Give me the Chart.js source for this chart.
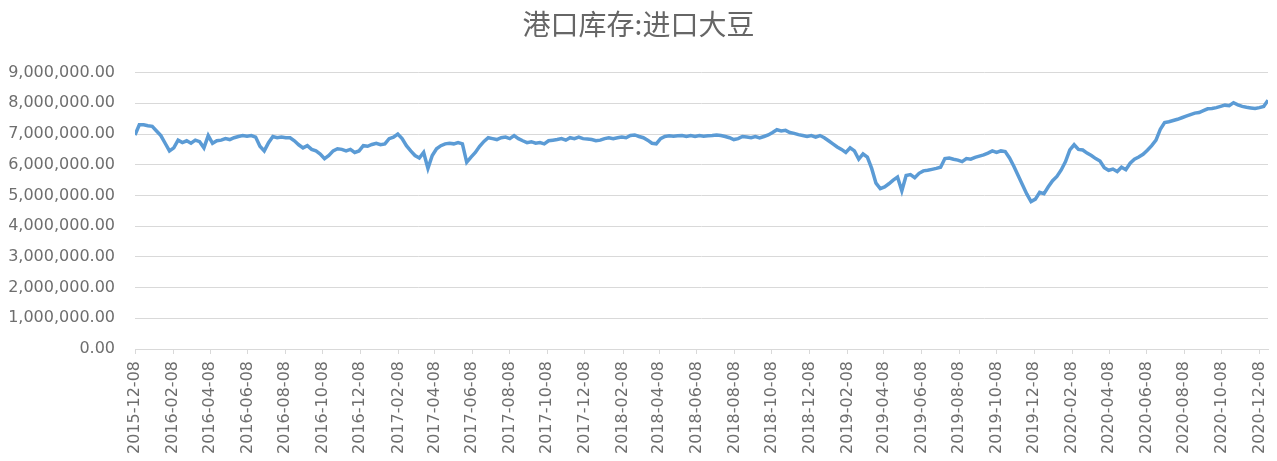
<!DOCTYPE html>
<html>
<head>
<meta charset="utf-8">
<script src="https://cdn.jsdelivr.net/npm/chart.js@4/dist/chart.umd.min.js"></script>
<style>
  html, body { margin: 0; padding: 0; background: #ffffff; }
  #wrap { width: 1277px; height: 461px; }
</style>
</head>
<body>
<div id="wrap"><canvas id="c" width="1277" height="461"></canvas></div>
<script>
// 港口库存:进口大豆 — weekly readings from 2015-12-08
const chartTitle = '港口库存:进口大豆';
const firstDate = '2015-12-08';
const stepDays = 7;

// Stock level (tons), one value per week
const stockValues = [
  6970000, 7300000, 7300000, 7270000, 7250000, 7100000, 6950000, 6700000, 6450000, 6550000,
  6800000, 6720000, 6780000, 6700000, 6800000, 6750000, 6550000, 6950000, 6700000, 6780000,
  6800000, 6850000, 6820000, 6880000, 6920000, 6950000, 6930000, 6950000, 6900000, 6600000,
  6450000, 6720000, 6920000, 6880000, 6900000, 6880000, 6880000, 6780000, 6650000, 6550000,
  6620000, 6500000, 6450000, 6350000, 6200000, 6300000, 6450000, 6520000, 6500000, 6450000,
  6500000, 6400000, 6450000, 6620000, 6600000, 6660000, 6700000, 6650000, 6680000, 6850000,
  6900000, 7000000, 6850000, 6620000, 6450000, 6300000, 6220000, 6400000, 5880000, 6300000,
  6520000, 6620000, 6680000, 6700000, 6680000, 6720000, 6680000, 6080000, 6250000, 6400000,
  6600000, 6760000, 6880000, 6850000, 6820000, 6880000, 6900000, 6850000, 6950000, 6850000,
  6780000, 6720000, 6750000, 6700000, 6720000, 6680000, 6780000, 6800000, 6820000, 6850000,
  6800000, 6880000, 6850000, 6900000, 6850000, 6840000, 6820000, 6780000, 6800000, 6850000,
  6880000, 6850000, 6880000, 6900000, 6880000, 6950000, 6970000, 6920000, 6880000, 6800000,
  6700000, 6680000, 6850000, 6920000, 6940000, 6930000, 6940000, 6950000, 6920000, 6950000,
  6920000, 6950000, 6930000, 6940000, 6950000, 6970000, 6950000, 6920000, 6880000, 6820000,
  6850000, 6920000, 6900000, 6880000, 6920000, 6870000, 6920000, 6970000, 7050000, 7140000,
  7100000, 7120000, 7050000, 7020000, 6980000, 6950000, 6920000, 6950000, 6900000, 6950000,
  6880000, 6780000, 6680000, 6580000, 6500000, 6400000, 6550000, 6450000, 6180000, 6350000,
  6250000, 5880000, 5400000, 5220000, 5280000, 5380000, 5500000, 5600000, 5150000, 5650000,
  5680000, 5580000, 5720000, 5800000, 5820000, 5850000, 5880000, 5920000, 6200000, 6220000,
  6180000, 6150000, 6100000, 6200000, 6180000, 6240000, 6280000, 6320000, 6380000, 6450000,
  6400000, 6450000, 6430000, 6220000, 5950000, 5650000, 5350000, 5050000, 4800000, 4880000,
  5100000, 5060000, 5280000, 5480000, 5620000, 5830000, 6100000, 6480000, 6650000, 6500000,
  6480000, 6380000, 6300000, 6200000, 6120000, 5900000, 5820000, 5860000, 5780000, 5920000,
  5840000, 6050000, 6180000, 6250000, 6340000, 6470000, 6620000, 6800000, 7150000, 7370000,
  7400000, 7440000, 7480000, 7530000, 7580000, 7630000, 7680000, 7700000, 7760000, 7820000,
  7830000, 7860000, 7900000, 7940000, 7920000, 8020000, 7950000, 7900000, 7870000, 7850000,
  7830000, 7860000, 7900000, 8100000
];

// Axis labels, every two months
const tickLabels = [
  '2015-12-08', '2016-02-08', '2016-04-08', '2016-06-08', '2016-08-08', '2016-10-08',
  '2016-12-08', '2017-02-08', '2017-04-08', '2017-06-08', '2017-08-08', '2017-10-08',
  '2017-12-08', '2018-02-08', '2018-04-08', '2018-06-08', '2018-08-08', '2018-10-08',
  '2018-12-08', '2019-02-08', '2019-04-08', '2019-06-08', '2019-08-08', '2019-10-08',
  '2019-12-08', '2020-02-08', '2020-04-08', '2020-06-08', '2020-08-08', '2020-10-08',
  '2020-12-08'
];
const yTicks = [0, 1000000, 2000000, 3000000, 4000000, 5000000, 6000000, 7000000, 8000000, 9000000];

const DAY = 86400000;
function dayOffset(s) {
  const [y, m, d] = s.split('-').map(Number);
  const [y0, m0, d0] = firstDate.split('-').map(Number);
  return Math.round((Date.UTC(y, m - 1, d) - Date.UTC(y0, m0 - 1, d0)) / DAY);
}
const tickDays = tickLabels.map(dayOffset);
const labelByDay = {};
tickLabels.forEach((t, i) => { labelByDay[tickDays[i]] = t; });

const points = stockValues.map((v, i) => ({ x: i * stepDays, y: v }));
const lastDay = (stockValues.length - 1) * stepDays;

const fmt = new Intl.NumberFormat('en-US', { minimumFractionDigits: 2, maximumFractionDigits: 2 });
const axisFont = { family: 'DejaVu Sans', size: 16 };
const labelGray = '#6e6e6e';

new Chart(document.getElementById('c'), {
  type: 'line',
  data: {
    datasets: [{
      data: points,
      borderColor: '#5B9BD5',
      borderWidth: 3.5,
      pointRadius: 0,
      tension: 0,
      fill: false
    }]
  },
  options: {
    responsive: false,
    animation: false,
    layout: { padding: { left: 0, right: 0, top: 0, bottom: 0 } },
    plugins: {
      legend: { display: false },
      tooltip: { enabled: false },
      title: {
        display: true,
        text: chartTitle,
        color: '#666666',
        font: { family: 'Noto Sans CJK SC', size: 28, weight: 'normal' },
        padding: { top: 8, bottom: 31 }
      }
    },
    scales: {
      x: {
        type: 'linear',
        min: 0,
        max: lastDay,
        afterBuildTicks: (scale) => { scale.ticks = tickDays.map(v => ({ value: v })); },
        afterFit: (scale) => {
          scale.height = 112;
          scale.paddingRight = 9;
          scale.paddingLeft = 0;
        },
        grid: {
          drawOnChartArea: false,
          drawTicks: true,
          tickLength: 5,
          color: '#D9D9D9'
        },
        border: { color: '#D9D9D9' },
        ticks: {
          autoSkip: false,
          maxRotation: 90,
          minRotation: 90,
          padding: 7,
          color: labelGray,
          font: axisFont,
          callback: (v) => labelByDay[v] || ''
        }
      },
      y: {
        min: 0,
        max: 9000000,
        afterBuildTicks: (scale) => { scale.ticks = yTicks.map(v => ({ value: v })); },
        afterFit: (scale) => { scale.width = 135; },
        grid: { color: '#D9D9D9', drawTicks: false },
        border: { display: false },
        ticks: {
          padding: 20,
          color: labelGray,
          font: axisFont,
          callback: (v) => fmt.format(v)
        }
      }
    }
  }
});
</script>
</body>
</html>
